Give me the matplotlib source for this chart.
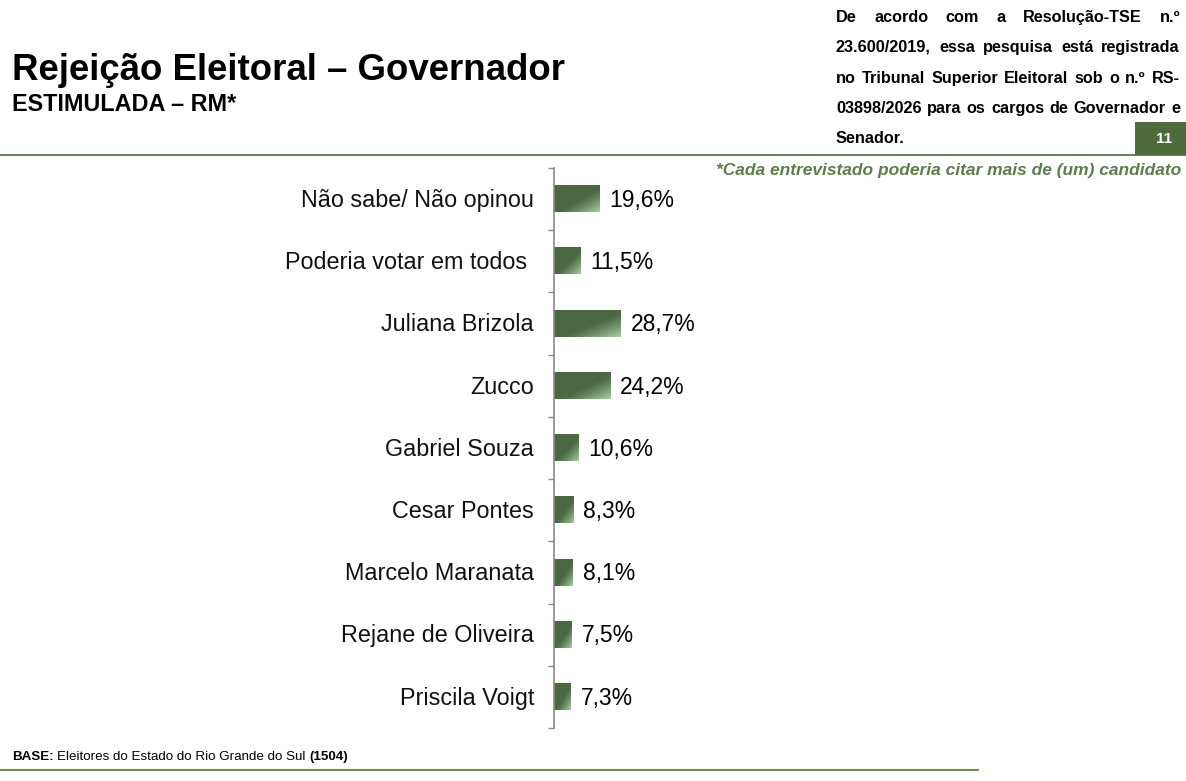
import numpy as np
import matplotlib
matplotlib.use("Agg")
import matplotlib.pyplot as plt
from matplotlib.patches import Rectangle
from matplotlib.lines import Line2D

plt.rcParams['font.family'] = ['Liberation Sans', 'DejaVu Sans']

categories = ["Não sabe/ Não opinou", "Poderia votar em todos ", "Juliana Brizola", "Zucco",
              "Gabriel Souza", "Cesar Pontes", "Marcelo Maranata", "Rejane de Oliveira",
              "Priscila Voigt"]
values = [19.6, 11.5, 28.7, 24.2, 10.6, 8.3, 8.1, 7.5, 7.3]
value_labels = ["19,6%", "11,5%", "28,7%", "24,2%", "10,6%", "8,3%", "8,1%", "7,5%", "7,3%"]

title = "Rejeição Eleitoral – Governador"
subtitle = "ESTIMULADA – RM*"
note = "*Cada entrevistado poderia citar mais de (um) candidato"
legal_lines = ["De acordo com a Resolução-TSE n.º",
               "23.600/2019, essa pesquisa está registrada",
               "no Tribunal Superior Eleitoral sob o n.º RS-",
               "03898/2026 para os cargos de Governador e",
               "Senador."]
page_num = "11"

W, H = 1186, 781
DARK = np.array([0x4a, 0x69, 0x42]) / 255.0
LIGHT = np.array([0xa8, 0xcf, 0xa4]) / 255.0
GREEN = '#4e6b3c'
GRAY = '#8a8a8a'

fig = plt.figure(figsize=(W / 100, H / 100), dpi=100)
fig.patch.set_facecolor('white')

def fx(px):
    return px / W

def fy(py):
    return 1 - py / H

# axes: axis line at x=554, y from 168 to 728
px_per_unit = 2.32
xmax = 100
ax = fig.add_axes([fx(554), fy(728), xmax * px_per_unit / W, (728 - 168) / H])
n = len(categories)
ypos = np.arange(n)
bar_h = 0.42
ax.set_xlim(0, xmax)
ax.set_ylim(n - 0.5, -0.5)

# gradient bars
ny, nx = 40, 120
rr, cc = np.mgrid[0:ny, 0:nx]
t = 0.5 * (cc / (nx - 1) + rr / (ny - 1))
s = np.clip((t - 0.55) / 0.45, 0, 1) ** 1.2
grad = DARK[None, None, :] * (1 - s[..., None]) + LIGHT[None, None, :] * s[..., None]
for i, v in enumerate(values):
    ax.imshow(grad, extent=[0, v, i - bar_h / 2, i + bar_h / 2], origin='lower',
              aspect='auto', interpolation='bilinear', zorder=2)
    ax.text(v + 10 / px_per_unit, i + 0.02, value_labels[i], va='center', ha='left',
            fontsize=16.5, color='black', clip_on=False)
ax.set_xlim(0, xmax)
ax.set_ylim(n - 0.5, -0.5)

for sp in ['top', 'right', 'bottom']:
    ax.spines[sp].set_visible(False)
ax.spines['left'].set_color(GRAY)
ax.spines['left'].set_linewidth(1.2)
ax.set_xticks([])
ax.set_yticks(np.arange(-0.5, n, 1.0))
ax.set_yticklabels([])
ax.tick_params(axis='y', length=4.5, color=GRAY, width=1.0, direction='out')
for i, c in enumerate(categories):
    ax.text(-20 / px_per_unit, i + 0.02, c, ha='right', va='center', fontsize=16.8,
            color='#111111', clip_on=False)

# header
fig.text(fx(12), fy(80), title, fontsize=26.4, fontweight='bold', ha='left',
         va='baseline', color='black')
fig.text(fx(12), fy(111), subtitle, fontsize=16.8, fontweight='bold', ha='left',
         va='baseline', color='black')

# justified legal text
renderer = fig.canvas.get_renderer()
left_px, right_px = 836, 1180
baselines = [22, 52, 83, 113, 143]
fs_legal = 11.7
for li, line in enumerate(legal_lines):
    words = line.split(' ')
    widths = []
    tmp = []
    for w in words:
        tt = fig.text(0, 0, w, fontsize=fs_legal, fontweight='bold')
        widths.append(tt.get_window_extent(renderer).width)
        tmp.append(tt)
    for tt in tmp:
        tt.remove()
    if li < len(legal_lines) - 1 and len(words) > 1:
        gap = (right_px - left_px - sum(widths)) / (len(words) - 1)
    else:
        sp = fig.text(0, 0, 'a a', fontsize=fs_legal, fontweight='bold')
        sa = fig.text(0, 0, 'aa', fontsize=fs_legal, fontweight='bold')
        gap = sp.get_window_extent(renderer).width - sa.get_window_extent(renderer).width
        sp.remove(); sa.remove()
    x = left_px
    for w, wd in zip(words, widths):
        fig.text(fx(x), fy(baselines[li]), w, fontsize=fs_legal, fontweight='bold',
                 ha='left', va='baseline', color='black')
        x += wd + gap

# page number box
fig.patches.append(Rectangle((fx(1135), fy(155)), fx(1186) - fx(1135), fy(122) - fy(155),
                             transform=fig.transFigure, facecolor=GREEN, edgecolor='none'))
fig.text(fx(1164), fy(139), page_num, fontsize=11, fontweight='bold', color='white',
         ha='center', va='center')

# top separator line
fig.lines.append(Line2D([0, 1], [fy(155), fy(155)], transform=fig.transFigure,
                        color=GREEN, lw=1.2))
fig.text(fx(1181), fy(170), note, fontsize=12.5, fontweight='bold', fontstyle='italic',
         color='#5b7f4a', ha='right', va='center')

# footer
fs_base = 9.6
fig.text(fx(12), fy(760), "BASE:", fontsize=fs_base, fontweight='bold', ha='left', va='baseline')
tb = fig.text(0, 0, "BASE: ", fontsize=fs_base, fontweight='bold')
wb = tb.get_window_extent(renderer).width
tb.remove()
mid = "Eleitores do Estado do Rio Grande do Sul "
fig.text(fx(12 + wb), fy(760), mid, fontsize=fs_base, ha='left', va='baseline')
tm = fig.text(0, 0, mid, fontsize=fs_base)
wm = tm.get_window_extent(renderer).width
tm.remove()
fig.text(fx(12 + wb + wm), fy(760), "(1504)", fontsize=fs_base, fontweight='bold', ha='left',
         va='baseline')
fig.lines.append(Line2D([0, fx(978)], [fy(770), fy(770)], transform=fig.transFigure,
                        color='#4e7a2a', lw=1.2))

fig.savefig('out.png', dpi=100, facecolor='white')
